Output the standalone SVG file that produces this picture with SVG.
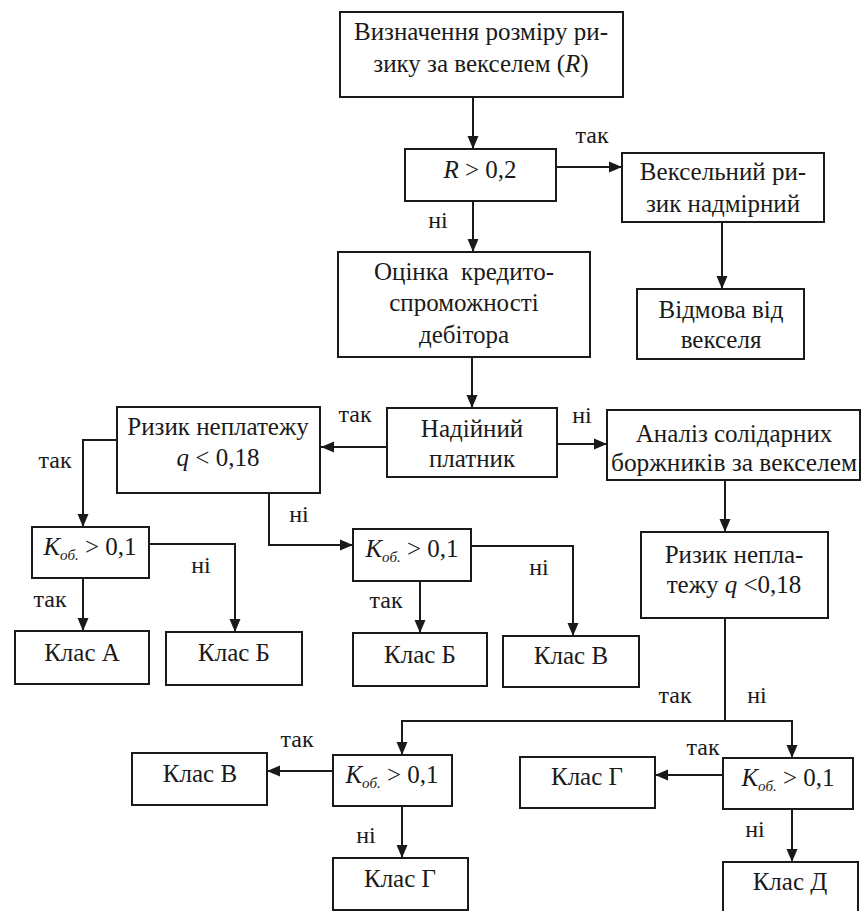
<svg xmlns="http://www.w3.org/2000/svg" width="861" height="911" viewBox="0 0 861 911" font-family="Liberation Serif, DejaVu Serif, serif">
<defs>
<marker id="ah" markerUnits="userSpaceOnUse" markerWidth="14" markerHeight="12" refX="13" refY="6" orient="auto">
<path d="M0,0.5 L13,6 L0,11.5 Z" fill="#1a1a1a"/>
</marker>
<style>
.bx{fill:#fff;stroke:#1a1a1a;stroke-width:2}
text{font-family:"Liberation Serif",serif}
.t{font-size:25px;fill:#1a1a1a;text-anchor:middle}
.l{font-size:24px;fill:#1a1a1a;text-anchor:middle}
.i{font-style:italic}
.s{font-style:italic;font-size:15px}
.c{fill:none;stroke:#1a1a1a;stroke-width:2}
.a{marker-end:url(#ah)}
</style>
</defs>
<rect width="861" height="911" fill="#fff"/>
<g id="connectors">
<path class="c a" d="M473,97 V149"/>
<path class="c a" d="M556,167 H622"/>
<path class="c a" d="M473,201 V252"/>
<path class="c a" d="M722,222 V289"/>
<path class="c a" d="M472,357 V408"/>
<path class="c a" d="M387,447 H321"/>
<path class="c a" d="M557,444 H607"/>
<path class="c a" d="M117,440 H83 V527"/>
<path class="c a" d="M83,578 V631"/>
<path class="c a" d="M149,544 H235 V632"/>
<path class="c a" d="M269,493 V545 H353"/>
<path class="c a" d="M420,581 V633"/>
<path class="c a" d="M471,546 H573 V636"/>
<path class="c a" d="M725,480 V532"/>
<path class="c" d="M725,618 V721"/>
<path class="c a" d="M725,721 H402 V755"/>
<path class="c a" d="M725,721 H792 V758"/>
<path class="c a" d="M333,771 H267"/>
<path class="c a" d="M402,806 V858"/>
<path class="c a" d="M723,775 H655"/>
<path class="c a" d="M792,809 V862"/>
<text class="l" x="592" y="143">так</text>
<text class="l" x="438" y="228">ні</text>
<text class="l" x="355" y="422">так</text>
<text class="l" x="582" y="423">ні</text>
<text class="l" x="55" y="468">так</text>
<text class="l" x="299" y="522">ні</text>
<text class="l" x="201" y="573">ні</text>
<text class="l" x="50" y="607">так</text>
<text class="l" x="386" y="608">так</text>
<text class="l" x="539" y="575">ні</text>
<text class="l" x="675" y="703">так</text>
<text class="l" x="757" y="703">ні</text>
<text class="l" x="297" y="747">так</text>
<text class="l" x="366" y="843">ні</text>
<text class="l" x="703" y="755">так</text>
<text class="l" x="755" y="837">ні</text>
</g>
<g id="n1"><rect class="bx" x="340" y="12" width="283" height="85"/>
<text class="t" x="481" y="40">Визначення розміру ри-</text>
<text class="t" x="481" y="72">зику за векселем (<tspan class="i">R</tspan>)</text></g>
<g id="n2"><rect class="bx" x="405" y="149" width="151" height="52"/>
<text class="t" x="480" y="178"><tspan class="i">R</tspan> &gt; 0,2</text></g>
<g id="n3"><rect class="bx" x="622" y="153" width="202" height="69"/>
<text class="t" x="723" y="180">Вексельний ри-</text>
<text class="t" x="723" y="212">зик надмірний</text></g>
<g id="n4"><rect class="bx" x="637" y="289" width="167" height="70"/>
<text class="t" x="721" y="318">Відмова від</text>
<text class="t" x="721" y="348">векселя</text></g>
<g id="n5"><rect class="bx" x="338" y="252" width="252" height="105"/>
<text class="t" x="464" y="280" xml:space="preserve">Оцінка  кредито-</text>
<text class="t" x="464" y="311">спроможності</text>
<text class="t" x="464" y="343">дебітора</text></g>
<g id="n6"><rect class="bx" x="387" y="408" width="170" height="69"/>
<text class="t" x="472" y="437">Надійний</text>
<text class="t" x="472" y="467">платник</text></g>
<g id="n7"><rect class="bx" x="117" y="407" width="203" height="86"/>
<text class="t" x="218" y="435">Ризик неплатежу</text>
<text class="t" x="218" y="466"><tspan class="i">q</tspan> &lt; 0,18</text></g>
<g id="n8"><rect class="bx" x="607" y="410" width="253" height="70"/>
<text class="t" x="734" y="442">Аналіз солідарних</text>
<text class="t" x="734" y="471" textLength="246" lengthAdjust="spacingAndGlyphs">боржників за векселем</text></g>
<g id="n9"><rect class="bx" x="32" y="527" width="117" height="51"/>
<text class="t" x="90" y="555"><tspan class="i">K</tspan><tspan class="s" dy="5">об.</tspan><tspan dy="-5"> &gt; 0,1</tspan></text></g>
<g id="n10"><rect class="bx" x="353" y="529" width="118" height="52"/>
<text class="t" x="412" y="557"><tspan class="i">K</tspan><tspan class="s" dy="5">об.</tspan><tspan dy="-5"> &gt; 0,1</tspan></text></g>
<g id="n11"><rect class="bx" x="641" y="532" width="187" height="86"/>
<text class="t" x="734" y="563">Ризик непла-</text>
<text class="t" x="734" y="593">тежу <tspan class="i">q</tspan> &lt;0,18</text></g>
<g id="n12"><rect class="bx" x="15" y="631" width="134" height="53"/>
<text class="t" x="82" y="661">Клас А</text></g>
<g id="n13"><rect class="bx" x="166" y="632" width="136" height="53"/>
<text class="t" x="234" y="661">Клас Б</text></g>
<g id="n14"><rect class="bx" x="353" y="633" width="134" height="53"/>
<text class="t" x="420" y="663">Клас Б</text></g>
<g id="n15"><rect class="bx" x="503" y="636" width="136" height="51"/>
<text class="t" x="571" y="664">Клас В</text></g>
<g id="n16"><rect class="bx" x="333" y="755" width="119" height="51"/>
<text class="t" x="392" y="783"><tspan class="i">K</tspan><tspan class="s" dy="5">об.</tspan><tspan dy="-5"> &gt; 0,1</tspan></text></g>
<g id="n17"><rect class="bx" x="132" y="753" width="135" height="52"/>
<text class="t" x="200" y="782">Клас В</text></g>
<g id="n18"><rect class="bx" x="333" y="858" width="135" height="52"/>
<text class="t" x="400" y="887">Клас Г</text></g>
<g id="n19"><rect class="bx" x="723" y="758" width="130" height="51"/>
<text class="t" x="788" y="786"><tspan class="i">K</tspan><tspan class="s" dy="5">об.</tspan><tspan dy="-5"> &gt; 0,1</tspan></text></g>
<g id="n20"><rect class="bx" x="520" y="757" width="135" height="51"/>
<text class="t" x="587" y="785">Клас Г</text></g>
<g id="n21"><rect class="bx" x="723" y="862" width="135" height="52"/>
<text class="t" x="790" y="890">Клас Д</text></g>
</svg>
